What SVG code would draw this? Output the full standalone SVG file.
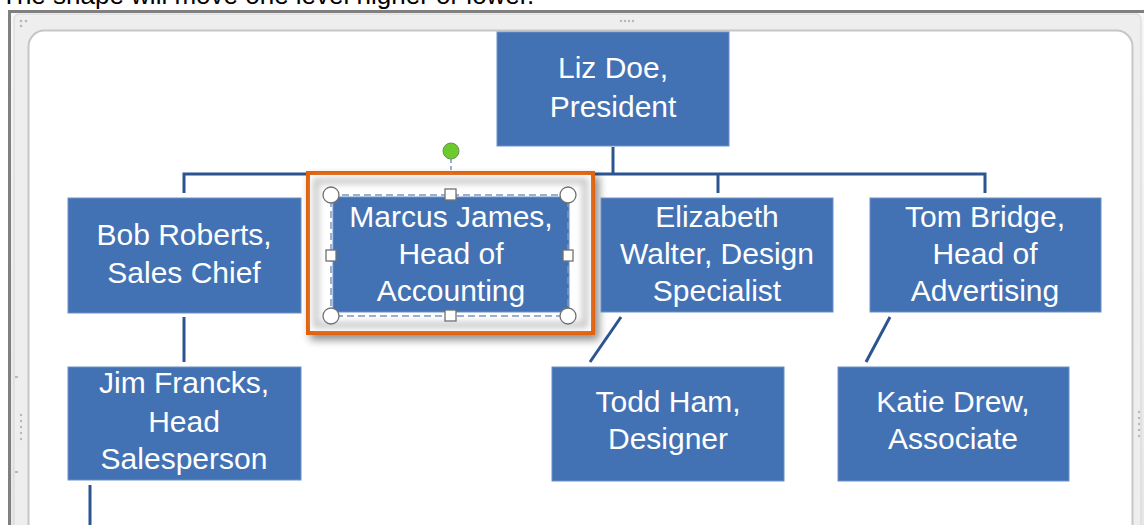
<svg xmlns="http://www.w3.org/2000/svg" width="1144" height="525" viewBox="0 0 1144 525">
<style>
.box{fill:#4372B4;stroke:#6B90C8;stroke-width:1}
.lbl{font-family:"Liberation Sans",Arial,sans-serif;font-size:30px;fill:#FFFFFF;text-anchor:middle}
.conn{stroke:#2B5591;stroke-width:3;fill:none}
.dot{fill:#B8B8B8}
.handle{fill:#FFFFFF;stroke:#707070;stroke-width:1.3}
</style>
<defs>
<linearGradient id="band" x1="0" y1="0" x2="0" y2="1">
<stop offset="0" stop-color="#F7F7F7"/>
<stop offset="1" stop-color="#E6E6E6"/>
</linearGradient>
<filter id="shadow" x="-20%" y="-20%" width="140%" height="150%">
<feGaussianBlur in="SourceAlpha" stdDeviation="4"/>
<feOffset dx="4" dy="5" result="b"/>
<feComponentTransfer><feFuncA type="linear" slope="0.45"/></feComponentTransfer>
<feMerge><feMergeNode/><feMergeNode in="SourceGraphic"/></feMerge>
</filter>
<filter id="blur3"><feGaussianBlur stdDeviation="3"/></filter>
</defs>
<rect width="1144" height="525" fill="#FFFFFF"/>
<text x="1" y="4" font-family="Liberation Sans, Arial, sans-serif" font-size="26" fill="#000000">The shape will move one level higher or lower.</text>
<!-- window frame -->
<rect x="9.5" y="11.5" width="1140" height="530" fill="url(#band)" stroke="#808080" stroke-width="3"/>
<rect x="14" y="14" width="1127" height="520" rx="5" fill="#EEEEEE" stroke="#D6D6D6" stroke-width="1"/>
<rect x="28.5" y="30.5" width="1104" height="520" rx="16" fill="#FFFFFF" stroke="#C6C6C6" stroke-width="2"/>
<g id="frame-dots">
<circle class="dot" cx="21" cy="21" r="1.3"/><circle class="dot" cx="26" cy="21" r="1.3"/><circle class="dot" cx="21" cy="26" r="1.3"/>
<circle class="dot" cx="621" cy="21" r="1.2"/><circle class="dot" cx="625" cy="21" r="1.2"/><circle class="dot" cx="629" cy="21" r="1.2"/><circle class="dot" cx="633" cy="21" r="1.2"/>
<circle class="dot" cx="21" cy="415" r="1.2"/><circle class="dot" cx="21" cy="421" r="1.2"/><circle class="dot" cx="21" cy="427" r="1.2"/><circle class="dot" cx="21" cy="433" r="1.2"/><circle class="dot" cx="21" cy="439" r="1.2"/>
<rect class="dot" x="15" y="376" width="3" height="2"/><rect class="dot" x="15" y="471" width="3" height="2"/>
<circle class="dot" cx="1139" cy="412" r="1.2"/><circle class="dot" cx="1139" cy="418" r="1.2"/><circle class="dot" cx="1139" cy="424" r="1.2"/><circle class="dot" cx="1139" cy="430" r="1.2"/><circle class="dot" cx="1139" cy="436" r="1.2"/>
</g>
<g id="connectors">
<line class="conn" x1="613" y1="147" x2="613" y2="174"/>
<polyline class="conn" points="184,193 184,174 985,174 985,193"/>
<line class="conn" x1="718" y1="174" x2="718" y2="193"/>
<line class="conn" x1="451" y1="174" x2="451" y2="187"/>
<line class="conn" x1="184" y1="317" x2="184" y2="362"/>
<line class="conn" x1="90" y1="485" x2="90" y2="525"/>
<line class="conn" x1="621" y1="317" x2="590" y2="362"/>
<line class="conn" x1="890" y1="317" x2="866" y2="362"/>
</g>
<g id="node-liz">
<rect class="box" x="497" y="32" width="232" height="114"/>
<text class="lbl" x="613" y="78">Liz Doe,</text>
<text class="lbl" x="613" y="117">President</text>
</g>
<g id="node-bob">
<rect class="box" x="68" y="198" width="233" height="115"/>
<text class="lbl" x="184" y="245">Bob Roberts,</text>
<text class="lbl" x="184" y="283">Sales Chief</text>
</g>
<g id="node-marcus">
<rect x="308" y="173" width="285" height="160" fill="#FFFFFF" stroke="#E2620E" stroke-width="4" filter="url(#shadow)"/>
<rect x="316" y="181" width="269" height="144" fill="none" stroke="#C8C8C8" stroke-width="6" filter="url(#blur3)"/>
<rect class="box" x="333" y="197" width="236" height="115"/>
<text class="lbl" x="451" y="227">Marcus James,</text>
<text class="lbl" x="451" y="264">Head of</text>
<text class="lbl" x="451" y="301">Accounting</text>
<rect x="331" y="195" width="237" height="121" fill="none" stroke="#7A96BE" stroke-width="1.5" stroke-dasharray="7,4"/>
<line x1="451" y1="159" x2="451" y2="174" stroke="#7A96BE" stroke-width="1.5" stroke-dasharray="4,3"/>
<circle cx="451" cy="151" r="8" fill="#6BCB2C" stroke="#6F8F5A" stroke-width="1"/>
<circle class="handle" cx="331" cy="195" r="8"/>
<circle class="handle" cx="568" cy="195" r="8"/>
<circle class="handle" cx="331" cy="316" r="8"/>
<circle class="handle" cx="568" cy="316" r="8"/>
<rect class="handle" x="445" y="189" width="11" height="11"/>
<rect class="handle" x="445" y="310" width="11" height="11"/>
<rect class="handle" x="326" y="250" width="10" height="11"/>
<rect class="handle" x="563" y="250" width="10" height="11"/>
</g>
<g id="node-elizabeth">
<rect class="box" x="601" y="198" width="232" height="114"/>
<text class="lbl" x="717" y="227">Elizabeth</text>
<text class="lbl" x="717" y="264">Walter, Design</text>
<text class="lbl" x="717" y="301">Specialist</text>
</g>
<g id="node-tom">
<rect class="box" x="870" y="198" width="231" height="114"/>
<text class="lbl" x="985" y="227">Tom Bridge,</text>
<text class="lbl" x="985" y="264">Head of</text>
<text class="lbl" x="985" y="301">Advertising</text>
</g>
<g id="node-jim">
<rect class="box" x="68" y="367" width="233" height="113"/>
<text class="lbl" x="184" y="393">Jim Francks,</text>
<text class="lbl" x="184" y="432">Head</text>
<text class="lbl" x="184" y="469">Salesperson</text>
</g>
<g id="node-todd">
<rect class="box" x="552" y="367" width="232" height="114"/>
<text class="lbl" x="668" y="412">Todd Ham,</text>
<text class="lbl" x="668" y="449">Designer</text>
</g>
<g id="node-katie">
<rect class="box" x="838" y="367" width="231" height="114"/>
<text class="lbl" x="953" y="412">Katie Drew,</text>
<text class="lbl" x="953" y="449">Associate</text>
</g>
</svg>
